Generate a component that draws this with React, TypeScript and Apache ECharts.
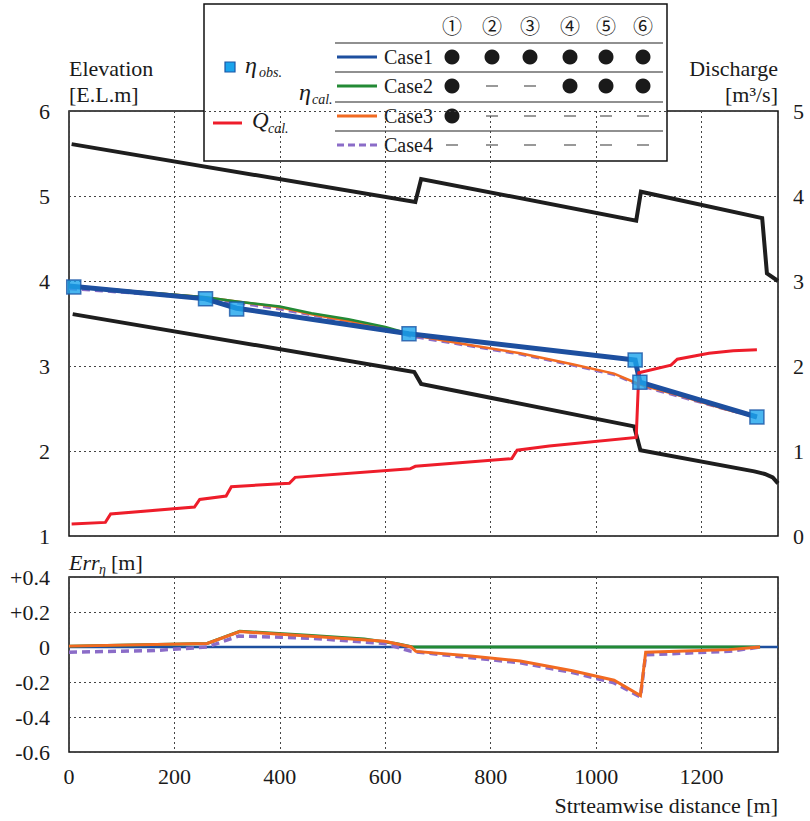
import React, { useEffect, useRef } from "react";
import * as echarts from "echarts";

type P = [number, number];

// Streamwise distance [m] vs elevation [E.L.m]
const bankUpper: P[] = [[5, 5.61], [657, 4.93], [668, 5.2], [1076, 4.71], [1085, 5.05], [1315, 4.74], [1324, 4.09], [1345, 4.0]];
const bankLower: P[] = [[7, 3.61], [655, 2.93], [668, 2.79], [1072, 2.29], [1084, 2.01], [1300, 1.76], [1320, 1.73], [1335, 1.69], [1345, 1.62]];
// Discharge [m3/s]
const dischargeQ: P[] = [[5, 0.14], [69, 0.16], [79, 0.26], [238, 0.34], [248, 0.43], [298, 0.47], [308, 0.58], [418, 0.62], [429, 0.69], [647, 0.79], [657, 0.82], [840, 0.91], [850, 1.01], [911, 1.06], [1076, 1.16], [1081, 1.92], [1142, 2.01], [1154, 2.08], [1214, 2.15], [1260, 2.18], [1305, 2.19]];
const obsEta: P[] = [[9, 3.93], [259, 3.79], [318, 3.67], [645, 3.38], [1074, 3.07], [1083, 2.81], [1305, 2.4]];
const case1Eta: P[] = [[0, 3.94], [259, 3.79], [318, 3.68], [645, 3.38], [1074, 3.07], [1083, 2.81], [1305, 2.4]];
const case2Eta: P[] = [[0, 3.94], [259, 3.81], [318, 3.76], [400, 3.70], [460, 3.62], [530, 3.55], [600, 3.46], [645, 3.38], [1074, 3.07], [1083, 2.81], [1305, 2.4]];
const case3Eta: P[] = [[0, 3.94], [259, 3.81], [318, 3.76], [400, 3.69], [460, 3.61], [530, 3.53], [600, 3.45], [645, 3.37], [757, 3.25], [856, 3.15], [955, 3.02], [1034, 2.91], [1076, 2.8], [1094, 2.76], [1153, 2.66], [1252, 2.48], [1305, 2.4]];
const case4Eta: P[] = [[0, 3.91], [163, 3.84], [262, 3.79], [322, 3.74], [400, 3.67], [460, 3.6], [530, 3.52], [599, 3.44], [649, 3.35], [757, 3.24], [856, 3.14], [955, 3.01], [1034, 2.9], [1076, 2.79], [1094, 2.75], [1153, 2.65], [1252, 2.48], [1305, 2.4]];
// Error of eta [m]
const err1: P[] = [[0, 0], [1345, 0]];
const err2: P[] = [[0, 0.005], [262, 0.02], [324, 0.09], [460, 0.066], [560, 0.046], [620, 0.02], [652, 0], [1311, 0]];
const err3: P[] = [[0, 0.005], [262, 0.02], [324, 0.088], [460, 0.062], [599, 0.033], [649, 0.0], [658, -0.025], [757, -0.05], [856, -0.08], [955, -0.136], [1034, -0.19], [1084, -0.277], [1094, -0.03], [1153, -0.024], [1252, -0.015], [1311, 0]];
const err4: P[] = [[0, -0.03], [163, -0.02], [262, 0.0], [322, 0.063], [460, 0.05], [599, 0.02], [649, -0.025], [757, -0.06], [856, -0.09], [955, -0.146], [1034, -0.205], [1084, -0.285], [1094, -0.045], [1153, -0.037], [1252, -0.025], [1311, 0]];

const colHeads = ["①", "②", "③", "④", "⑤", "⑥"];
const caseNames = ["Case1", "Case2", "Case3", "Case4"];
const caseMarks = [
  [1, 1, 1, 1, 1, 1],
  [1, 0, 0, 1, 1, 1],
  [1, 0, 0, 0, 0, 0],
  [0, 0, 0, 0, 0, 0],
];

const SERIF = "Liberation Serif, Times New Roman, DejaVu Serif, serif";
const C_BLUE = "#1d4f9f";
const C_GREEN = "#238a35";
const C_ORANGE = "#f26a21";
const C_PURPLE = "#8b6cc8";
const C_RED = "#ee1d2a";
const C_BLACK = "#1e1e1e";
const caseColors = [C_BLUE, C_GREEN, C_ORANGE, C_PURPLE];

function txt(text: string, x: number, y: number, size: number, opts: any = {}) {
  return {
    type: "text",
    x,
    y,
    style: {
      text,
      fontSize: size,
      fontFamily: opts.family || SERIF,
      fontStyle: opts.italic ? "italic" : "normal",
      fill: "#1a1a1a",
      align: opts.align || "left",
      verticalAlign: "middle",
    },
  };
}

export default function App() {
  const ref = useRef<HTMLDivElement>(null);
  useEffect(() => {
    document.body.style.margin = "0";
    const chart = echarts.init(ref.current!, undefined, { renderer: "svg" });

    const GL = 69, GW = 709;
    const gridLine = { show: true, lineStyle: { color: "#444", type: [2, 3], width: 1 } };
    const axLabel = { fontSize: 22, fontFamily: SERIF, color: "#1a1a1a" };
    const xFmt = (v: number) => (v % 200 === 0 ? String(v) : "");

    // Legend table
    const colX = [452, 492, 530, 570, 606, 643];
    const rowY = [57, 86, 116, 145];
    const lineY = [43, 72, 102, 131];
    const leg: any[] = [];
    leg.push({ type: "rect", shape: { x: 204, y: 4, width: 463, height: 157 }, style: { fill: "#fff", stroke: "#111", lineWidth: 1.5 } });
    colHeads.forEach((h, i) => leg.push(txt(h, colX[i], 25, 20, { align: "center", family: "Noto Sans CJK JP" })));
    lineY.forEach((y) => leg.push({ type: "line", shape: { x1: 335, y1: y, x2: 663, y2: y }, style: { stroke: "#222", lineWidth: 1.2 } }));
    caseNames.forEach((n, r) => {
      leg.push({ type: "line", shape: { x1: 337, y1: rowY[r], x2: 377, y2: rowY[r] }, style: { stroke: caseColors[r], lineWidth: 3, lineDash: r === 3 ? [7, 4] : null } });
      leg.push(txt(n, 384, rowY[r], 20));
      caseMarks[r].forEach((m, c) => {
        if (m) leg.push({ type: "circle", shape: { cx: colX[c], cy: rowY[r], r: 7.5 }, style: { fill: "#1a1a1a" } });
        else leg.push({ type: "line", shape: { x1: colX[c] - 6, y1: rowY[r], x2: colX[c] + 6, y2: rowY[r] }, style: { stroke: "#555", lineWidth: 1.2 } });
      });
    });
    leg.push({ type: "rect", shape: { x: 225, y: 62, width: 10, height: 10 }, style: { fill: "#1ba4ec", stroke: "#1b56a6", lineWidth: 1.2 } });
    leg.push(txt("η", 245, 65, 24, { italic: true }));
    leg.push(txt("obs.", 259, 72, 14, { italic: true }));
    leg.push({ type: "line", shape: { x1: 213, y1: 123, x2: 242, y2: 123 }, style: { stroke: C_RED, lineWidth: 3 } });
    leg.push(txt("Q", 252, 120, 23, { italic: true }));
    leg.push(txt("cal.", 268, 128, 14, { italic: true }));
    leg.push(txt("η", 299, 92, 24, { italic: true }));
    leg.push(txt("cal.", 312, 99, 14, { italic: true }));

    const titles: any[] = [
      txt("Elevation", 69, 68, 22),
      txt("[E.L.m]", 69, 94, 22),
      txt("Discharge", 778, 68, 22, { align: "right" }),
      txt("[m³/s]", 778, 94, 22, { align: "right" }),
      txt("Err", 69, 562, 22, { italic: true }),
      txt("η", 99, 569, 14, { italic: true }),
      txt("[m]", 111, 562, 22),
      txt("Strteamwise distance [m]", 778, 805, 22, { align: "right" }),
    ];

    const line = (data: P[], color: string, width: number, xi: number, yi: number, z: number, dash?: number[]) => ({
      type: "line",
      data,
      xAxisIndex: xi,
      yAxisIndex: yi,
      showSymbol: false,
      symbol: "none",
      z,
      lineStyle: { color, width, type: dash || "solid", cap: "butt", join: "miter" },
      emphasis: { disabled: true },
    });

    chart.setOption({
      animation: false,
      backgroundColor: "#fff",
      textStyle: { fontFamily: SERIF },
      grid: [
        { left: GL, top: 111, width: GW, height: 425, show: true, borderColor: "#111", borderWidth: 1.5, backgroundColor: "transparent" },
        { left: GL, top: 577, width: GW, height: 175, show: true, borderColor: "#111", borderWidth: 1.5, backgroundColor: "transparent" },
      ],
      xAxis: [
        { type: "value", gridIndex: 0, min: 0, max: 1345, interval: 200, axisLine: { show: false }, axisTick: { show: false }, axisLabel: { show: false }, splitLine: gridLine },
        { type: "value", gridIndex: 1, min: 0, max: 1345, interval: 200, axisLine: { show: false }, axisTick: { show: false }, axisLabel: { ...axLabel, margin: 13, formatter: xFmt, showMaxLabel: false }, splitLine: gridLine },
      ],
      yAxis: [
        { type: "value", gridIndex: 0, min: 1, max: 6, interval: 1, axisLine: { show: false }, axisTick: { show: false }, axisLabel: { ...axLabel, margin: 19 }, splitLine: gridLine },
        { type: "value", gridIndex: 0, position: "right", min: 0, max: 5, interval: 1, axisLine: { show: false }, axisTick: { show: false }, axisLabel: { ...axLabel, margin: 15 }, splitLine: { show: false } },
        {
          type: "value", gridIndex: 1, min: -0.6, max: 0.4, interval: 0.2, axisLine: { show: false }, axisTick: { show: false }, splitLine: gridLine,
          axisLabel: { ...axLabel, margin: 19, formatter: (v: number) => (Math.abs(v) < 1e-9 ? "0" : v > 0 ? "+" + v.toFixed(1) : v.toFixed(1)) },
        },
      ],
      series: [
        line(bankUpper, C_BLACK, 4, 0, 0, 2),
        line(bankLower, C_BLACK, 4, 0, 0, 2),
        line(case4Eta, C_PURPLE, 3, 0, 0, 3, [8, 5]),
        line(case3Eta, C_ORANGE, 2.5, 0, 0, 4),
        line(case2Eta, C_GREEN, 2.5, 0, 0, 4),
        line(case1Eta, C_BLUE, 5, 0, 0, 5),
        line(dischargeQ, C_RED, 3, 0, 1, 6),
        {
          type: "scatter", data: obsEta, xAxisIndex: 0, yAxisIndex: 0, symbol: "rect", symbolSize: 14, z: 7,
          itemStyle: { color: "#1ba4ec", borderColor: "#1b56a6", borderWidth: 1.5 }, emphasis: { disabled: true },
        },
        line(err1, C_BLUE, 2.5, 1, 2, 3),
        line(err2, C_GREEN, 3, 1, 2, 4),
        line(err4, C_PURPLE, 3.5, 1, 2, 5, [8, 5]),
        line(err3, C_ORANGE, 3, 1, 2, 6),
      ],
      graphic: [
        { type: "group", z: 100, children: titles },
        { type: "group", z: 110, children: leg },
      ],
    });
    return () => chart.dispose();
  }, []);
  return <div ref={ref} style={{ width: 810, height: 821 }} />;
}
